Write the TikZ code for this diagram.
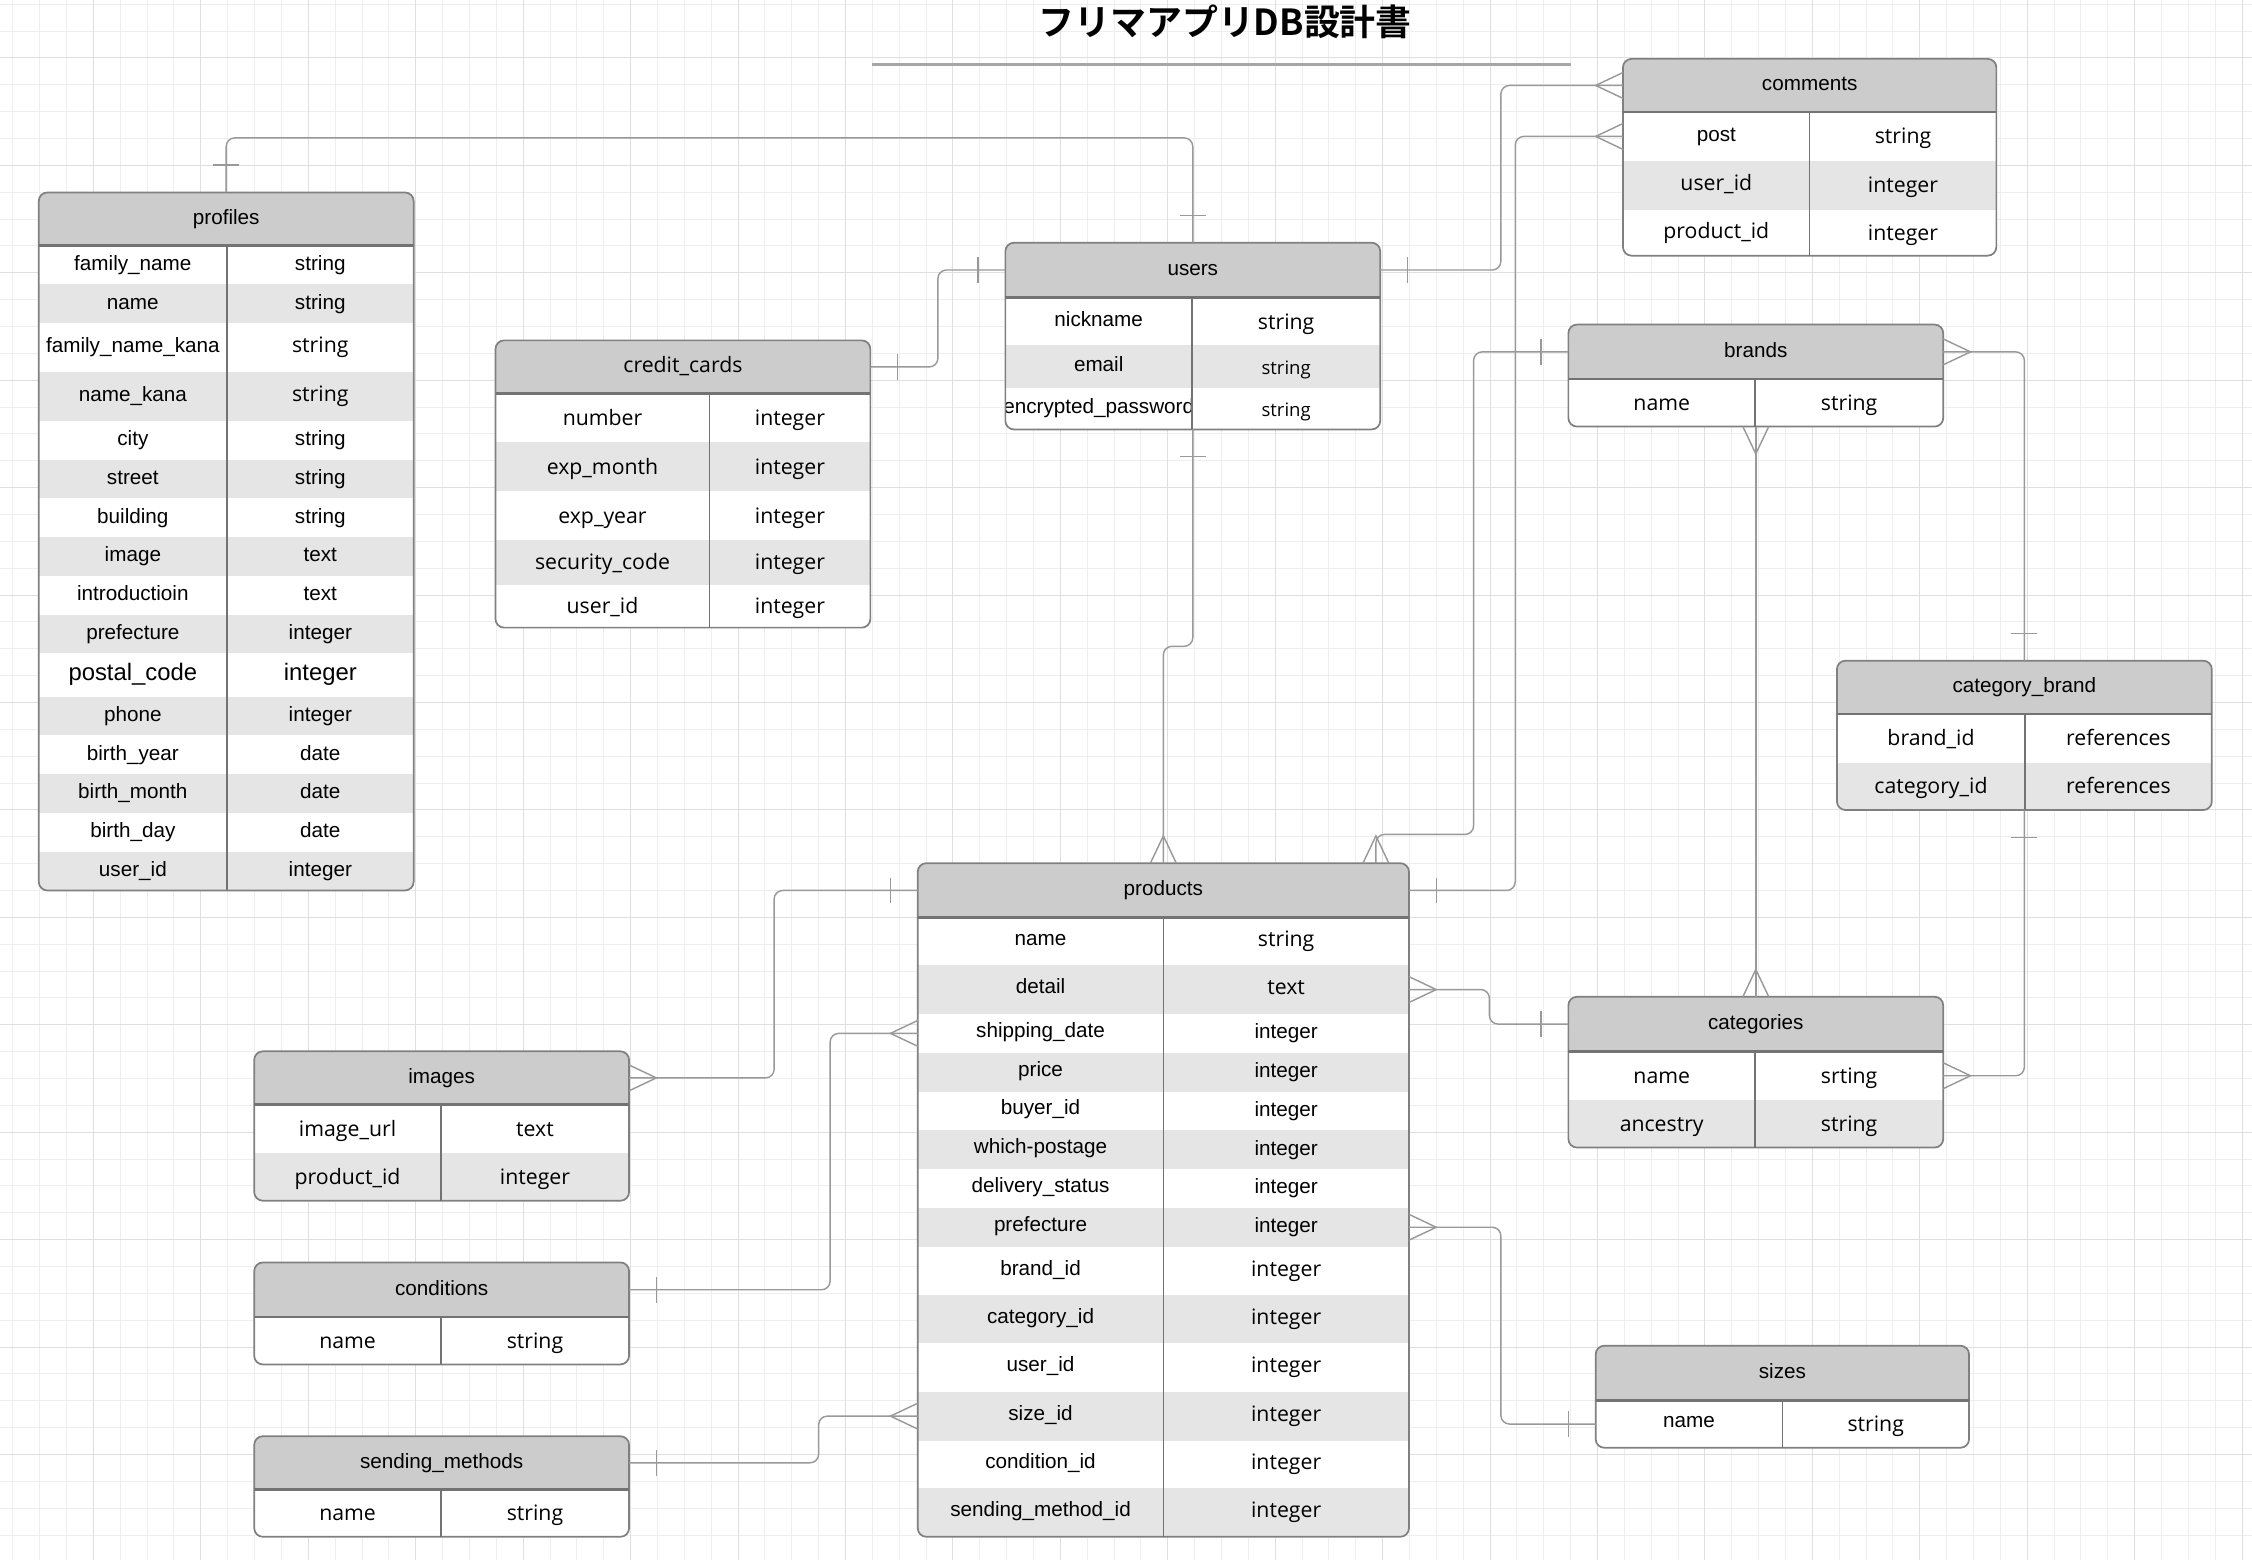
\documentclass[tikz,border=0pt]{standalone}
\usepackage{fontspec}
\setmainfont{Liberation Sans}
\newfontfamily\opensans{Open Sans}
\newfontfamily\jptitle{Noto Sans CJK JP Bold}
\usetikzlibrary{calc}

\definecolor{hdrgray}{gray}{0.8}
\definecolor{rowgray}{gray}{0.9}
\definecolor{framegray}{gray}{0.5}
\definecolor{linkgray}{gray}{0.6}
\definecolor{gridminor}{gray}{0.935}
\definecolor{gridmajor}{gray}{0.875}

\newcommand\osf{\opensans\fontsize{14.8}{17}\selectfont}
\newcommand\osfs{\opensans\fontsize{12.9}{15}\selectfont}
\newcommand\bigf{\fontsize{16.6}{19}\selectfont}

\tikzset{
  hd/.style={fill=hdrgray, inner sep=0, outer sep=0, font=\fontsize{14.4}{17}\selectfont, text height=10.5pt, text depth=3pt},
  rw/.style={inner sep=0, outer sep=0},
  txt/.style={inner sep=0, font=\fontsize{14.4}{17}\selectfont, text height=10.5pt, text depth=3pt},
  txtos/.style={txt, font=\opensans\fontsize{14.8}{17}\selectfont, yshift=-1.5pt},
  box/.style={draw=framegray, line width=1.2pt, rounded corners=6pt, inner sep=0, outer sep=0},
  hline/.style={draw=black!55, line width=1.8pt},
  divl/.style={draw=black!55, line width=1pt},
  conn/.style={draw=linkgray, line width=1pt, rounded corners=6pt},
  mk/.style={draw=linkgray, line width=1pt},
  one/.pic={\draw[mk] (-19,-9) -- (-19,9);},
  many/.pic={\draw[mk] (0,-9) -- (-19,0) -- (0,9);},
}

\begin{document}
\begin{tikzpicture}[x=1pt, y=-1pt]
\useasboundingbox (0,0) rectangle (1568,1086);
\fill [white] (0,0) rectangle (1568,1086);

% grid
\foreach \i in {0,...,83} \draw [gridminor] ({8.8+18.7*\i},0) -- ++(0,1086);
\foreach \j in {0,...,57} \draw [gridminor] (0,{2.8+18.7*\j}) -- ++(1568,0);
\foreach \i in {0,...,20} \draw [gridmajor] ({64.9+74.8*\i},0) -- ++(0,1086);
\foreach \j in {0,...,13} \draw [gridmajor] (0,{40.2+74.8*\j}) -- ++(1568,0);

% title
\node [font=\jptitle\fontsize{25}{28}\selectfont] (title) at (853,15) {フリマアプリDB設計書};
\draw [black!35, line width=2pt] (607,45) -- (1094,45);

% profiles
\begin{scope}
\clip [rounded corners=6] (27,134) rectangle (288,620);
\node [hd, minimum width=261, minimum height=37] (profiles) at (157.5,152.5) {profiles};
\foreach \ya/\yb/\cola/\colb/\fc [count=\i] in {
  171/198/family\_name/string/white,
  198/225/name/string/rowgray,
  225/259/family\_name\_kana/{\osf string}/white,
  259/293/name\_kana/{\osf string}/rowgray,
  293/320/city/string/white,
  320/347/street/string/rowgray,
  347/374/building/string/white,
  374/401/image/text/rowgray,
  401/428/introductioin/text/white,
  428/455/prefecture/integer/rowgray,
  455/485/{\bigf postal\_code}/{\bigf integer}/white,
  485/512/phone/integer/rowgray,
  512/539/birth\_year/date/white,
  539/566/birth\_month/date/rowgray,
  566/593/birth\_day/date/white,
  593/620/user\_id/integer/rowgray}
{
  \node [rw, fill=\fc, minimum width=261, minimum height=\yb-\ya] (profiles-\i) at (157.5,{(\ya+\yb)/2}) {};
  \node [txt] (profiles-\i-a) at (92.5,{(\ya+\yb)/2}) {\cola};
  \node [txt] (profiles-\i-b) at (223,{(\ya+\yb)/2}) {\colb};
}
\end{scope}
\node [box, minimum width=261, minimum height=486] (profiles-box) at (157.5,377) {};
\draw [hline] (profiles.south west) -- (profiles.south east);
\draw [divl] (158,171) -- (158,620);

% users
\begin{scope}
\clip [rounded corners=6] (700,169) rectangle (961,299);
\node [hd, minimum width=261, minimum height=38] (users) at (830.5,188) {users};
\foreach \ya/\yb/\cola/\colb/\fc [count=\i] in {
  207/240/nickname/{\osf string}/white,
  240/270/email/{\osfs string}/rowgray,
  270/299/encrypted\_password/{\osfs string}/white}
{
  \node [rw, fill=\fc, minimum width=261, minimum height=\yb-\ya] (users-\i) at (830.5,{(\ya+\yb)/2}) {};
  \node [txt] (users-\i-a) at (765,{(\ya+\yb)/2}) {\cola};
  \node [txt] (users-\i-b) at (895.5,{(\ya+\yb)/2+2}) {\colb};
}
\end{scope}
\node [box, minimum width=261, minimum height=130] (users-box) at (830.5,234) {};
\draw [hline] (users.south west) -- (users.south east);
\draw [divl] (830,207) -- (830,299);

% credit_cards
\begin{scope}
\clip [rounded corners=6] (345,237) rectangle (606,437);
\node [hd, font=\opensans\fontsize{14.8}{17}\selectfont, minimum width=261, minimum height=37] (cards) at (475.5,255.5) {credit\_cards};
\foreach \ya/\yb/\cola/\colb/\fc [count=\i] in {
  274/308/number/integer/white,
  308/342/exp\_month/integer/rowgray,
  342/376/exp\_year/integer/white,
  376/407/security\_code/integer/rowgray,
  407/437/user\_id/integer/white}
{
  \node [rw, fill=\fc, minimum width=261, minimum height=\yb-\ya] (cards-\i) at (475.5,{(\ya+\yb)/2}) {};
  \node [txtos] (cards-\i-a) at (419.5,{(\ya+\yb)/2}) {\cola};
  \node [txtos] (cards-\i-b) at (550,{(\ya+\yb)/2}) {\colb};
}
\end{scope}
\node [box, minimum width=261, minimum height=200] (cards-box) at (475.5,337) {};
\draw [hline] (cards.south west) -- (cards.south east);
\draw [divl] (494,274) -- (494,437);

% comments
\begin{scope}
\clip [rounded corners=6] (1130,41) rectangle (1390,178);
\node [hd, minimum width=260, minimum height=37] (comments) at (1260,59.5) {comments};
\foreach \ya/\yb/\cola/\colb/\fc [count=\i] in {
  78/112/post/{\osf string}/white,
  112/146/{\osf user\_id}/{\osf integer}/rowgray,
  146/178/{\osf product\_id}/{\osf integer}/white}
{
  \node [rw, fill=\fc, minimum width=260, minimum height=\yb-\ya] (comments-\i) at (1260,{(\ya+\yb)/2}) {};
  \node [txt] (comments-\i-a) at (1195,{(\ya+\yb)/2}) {\cola};
  \node [txt] (comments-\i-b) at (1325,{(\ya+\yb)/2+1.5}) {\colb};
}
\end{scope}
\node [box, minimum width=260, minimum height=137] (comments-box) at (1260,109.5) {};
\draw [hline] (comments.south west) -- (comments.south east);
\draw [divl] (1260,78) -- (1260,178);

% brands
\begin{scope}
\clip [rounded corners=6] (1092,226) rectangle (1353,297);
\node [hd, minimum width=261, minimum height=38] (brands) at (1222.5,245) {brands};
\foreach \ya/\yb/\cola/\colb/\fc [count=\i] in {
  264/297/name/string/white}
{
  \node [rw, fill=\fc, minimum width=261, minimum height=\yb-\ya] (brands-\i) at (1222.5,{(\ya+\yb)/2}) {};
  \node [txtos] (brands-\i-a) at (1157,{(\ya+\yb)/2}) {\cola};
  \node [txtos] (brands-\i-b) at (1287.5,{(\ya+\yb)/2}) {\colb};
}
\end{scope}
\node [box, minimum width=261, minimum height=71] (brands-box) at (1222.5,261.5) {};
\draw [hline] (brands.south west) -- (brands.south east);
\draw [divl] (1222,264) -- (1222,297);

% category_brand
\begin{scope}
\clip [rounded corners=6] (1279,460) rectangle (1540,564);
\node [hd, minimum width=261, minimum height=37] (catbrand) at (1409.5,478.5) {category\_brand};
\foreach \ya/\yb/\cola/\colb/\fc [count=\i] in {
  497/531/brand\_id/references/white,
  531/564/category\_id/references/rowgray}
{
  \node [rw, fill=\fc, minimum width=261, minimum height=\yb-\ya] (catbrand-\i) at (1409.5,{(\ya+\yb)/2}) {};
  \node [txtos] (catbrand-\i-a) at (1344.5,{(\ya+\yb)/2}) {\cola};
  \node [txtos] (catbrand-\i-b) at (1475,{(\ya+\yb)/2}) {\colb};
}
\end{scope}
\node [box, minimum width=261, minimum height=104] (catbrand-box) at (1409.5,512) {};
\draw [hline] (catbrand.south west) -- (catbrand.south east);
\draw [divl] (1410,497) -- (1410,564);

% products
\begin{scope}
\clip [rounded corners=6] (639,601) rectangle (981,1070);
\node [hd, minimum width=342, minimum height=38] (products) at (810,620) {products};
\foreach \ya/\yb/\cola/\colb/\fc [count=\i] in {
  639/672/name/{\osf string}/white,
  672/706/detail/{\osf text}/rowgray,
  706/733/shipping\_date/integer/white,
  733/760/price/integer/rowgray,
  760/787/buyer\_id/integer/white,
  787/814/which-postage/integer/rowgray,
  814/841/delivery\_status/integer/white,
  841/868/prefecture/integer/rowgray,
  868/902/brand\_id/{\osf integer}/white,
  902/935/category\_id/{\osf integer}/rowgray,
  935/969/user\_id/{\osf integer}/white,
  969/1003/size\_id/{\osf integer}/rowgray,
  1003/1036/condition\_id/{\osf integer}/white,
  1036/1070/sending\_method\_id/{\osf integer}/rowgray}
{
  \node [rw, fill=\fc, minimum width=342, minimum height=\yb-\ya] (products-\i) at (810,{(\ya+\yb)/2}) {};
  \node [txt] (products-\i-a) at (724.5,{(\ya+\yb)/2-1}) {\cola};
  \node [txt] (products-\i-b) at (895.5,{(\ya+\yb)/2}) {\colb};
}
\end{scope}
\node [box, minimum width=342, minimum height=469] (products-box) at (810,835.5) {};
\draw [hline] (products.south west) -- (products.south east);
\draw [divl] (810,639) -- (810,1070);
\coordinate (products-nb) at ($(products.north east)+(-23,0)$);

% categories
\begin{scope}
\clip [rounded corners=6] (1092,694) rectangle (1353,799);
\node [hd, minimum width=261, minimum height=38] (categories) at (1222.5,713) {categories};
\foreach \ya/\yb/\cola/\colb/\fc [count=\i] in {
  732/766/name/srting/white,
  766/799/ancestry/string/rowgray}
{
  \node [rw, fill=\fc, minimum width=261, minimum height=\yb-\ya] (categories-\i) at (1222.5,{(\ya+\yb)/2}) {};
  \node [txtos] (categories-\i-a) at (1157,{(\ya+\yb)/2}) {\cola};
  \node [txtos] (categories-\i-b) at (1287.5,{(\ya+\yb)/2}) {\colb};
}
\end{scope}
\node [box, minimum width=261, minimum height=105] (categories-box) at (1222.5,746.5) {};
\draw [hline] (categories.south west) -- (categories.south east);
\draw [divl] (1222,732) -- (1222,799);

% images
\begin{scope}
\clip [rounded corners=6] (177,732) rectangle (438,836);
\node [hd, minimum width=261, minimum height=37] (images) at (307.5,750.5) {images};
\foreach \ya/\yb/\cola/\colb/\fc [count=\i] in {
  769/803/image\_url/text/white,
  803/836/product\_id/integer/rowgray}
{
  \node [rw, fill=\fc, minimum width=261, minimum height=\yb-\ya] (images-\i) at (307.5,{(\ya+\yb)/2}) {};
  \node [txtos] (images-\i-a) at (242,{(\ya+\yb)/2}) {\cola};
  \node [txtos] (images-\i-b) at (372.5,{(\ya+\yb)/2}) {\colb};
}
\end{scope}
\node [box, minimum width=261, minimum height=104] (images-box) at (307.5,784) {};
\draw [hline] (images.south west) -- (images.south east);
\draw [divl] (307,769) -- (307,836);

% conditions
\begin{scope}
\clip [rounded corners=6] (177,879) rectangle (438,950);
\node [hd, minimum width=261, minimum height=38] (conditions) at (307.5,898) {conditions};
\node [rw, fill=white, minimum width=261, minimum height=33] (conditions-1) at (307.5,933.5) {};
\node [txtos] (conditions-1-a) at (242,933.5) {name};
\node [txtos] (conditions-1-b) at (372.5,933.5) {string};
\end{scope}
\node [box, minimum width=261, minimum height=71] (conditions-box) at (307.5,914.5) {};
\draw [hline] (conditions.south west) -- (conditions.south east);
\draw [divl] (307,917) -- (307,950);

% sending_methods
\begin{scope}
\clip [rounded corners=6] (177,1000) rectangle (438,1070);
\node [hd, minimum width=261, minimum height=37] (sending) at (307.5,1018.5) {sending\_methods};
\node [rw, fill=white, minimum width=261, minimum height=33] (sending-1) at (307.5,1053.5) {};
\node [txtos] (sending-1-a) at (242,1053.5) {name};
\node [txtos] (sending-1-b) at (372.5,1053.5) {string};
\end{scope}
\node [box, minimum width=261, minimum height=70] (sending-box) at (307.5,1035) {};
\draw [hline] (sending.south west) -- (sending.south east);
\draw [divl] (307,1037) -- (307,1070);

% sizes
\begin{scope}
\clip [rounded corners=6] (1111,937) rectangle (1371,1008);
\node [hd, minimum width=260, minimum height=38] (sizes) at (1241,956) {sizes};
\node [rw, fill=white, minimum width=260, minimum height=33] (sizes-1) at (1241,991.5) {};
\node [txt] (sizes-1-a) at (1176,990) {name};
\node [txtos] (sizes-1-b) at (1306,991.5) {string};
\end{scope}
\node [box, minimum width=260, minimum height=71] (sizes-box) at (1241,972.5) {};
\draw [hline] (sizes.south west) -- (sizes.south east);
\draw [divl] (1241,975) -- (1241,1008);

% relations
\draw [conn] (profiles.north) -- ++(0,-38) -| (users.north);
\draw [conn] (cards.east) -- ++(47,0) |- (users.west);
\draw [conn] (users.east) -- ++(84,0) |- (comments.west);
\draw [conn] (products.east) -- ++(74,0) |- (comments-1.west);
\draw [conn] (users-box.south) -- ++(0,151) -| (products.north);
\draw [conn] (brands.west) -- ++(-66,0) |- ($(products-nb)+(0,-20)$) -- (products-nb);
\draw [conn] (brands.east) -| (catbrand.north);
\draw [conn] (brands-box.south) -- (categories.north);
\draw [conn] (catbrand-box.south) |- (categories-1.east);
\draw [conn] (products-2.east) -- ++(56,0) |- (categories.west);
\draw [conn] (products-8.east) -- ++(64,0) |- (sizes-1.west);
\draw [conn] (products.west) -- ++(-100,0) |- (images.east);
\draw [conn] (products-3.west) -- ++(-61,0) |- (conditions.east);
\draw [conn] (products-12.west) -- ++(-69,0) |- (sending.east);

% ends
\pic [rotate=-90] at (profiles.north) {one};
\pic [rotate=-90] at (users.north) {one};
\pic [rotate=180] at (cards.east) {one};
\pic at (users.west) {one};
\pic [rotate=180] at (users.east) {one};
\pic at (comments.west) {many};
\pic [rotate=180] at (products.east) {one};
\pic at (comments-1.west) {many};
\pic [rotate=90] at (users-box.south) {one};
\pic [rotate=-90] at (products.north) {many};
\pic at (brands.west) {one};
\pic [rotate=-90] at (products-nb) {many};
\pic [rotate=180] at (brands.east) {many};
\pic [rotate=-90] at (catbrand.north) {one};
\pic [rotate=90] at (brands-box.south) {many};
\pic [rotate=-90] at (categories.north) {many};
\pic [rotate=90] at (catbrand-box.south) {one};
\pic [rotate=180] at (categories-1.east) {many};
\pic [rotate=180] at (products-2.east) {many};
\pic at (categories.west) {one};
\pic [rotate=180] at (products-8.east) {many};
\pic at (sizes-1.west) {one};
\pic at (products.west) {one};
\pic [rotate=180] at (images.east) {many};
\pic at (products-3.west) {many};
\pic [rotate=180] at (conditions.east) {one};
\pic at (products-12.west) {many};
\pic [rotate=180] at (sending.east) {one};
\end{tikzpicture}
\end{document}
